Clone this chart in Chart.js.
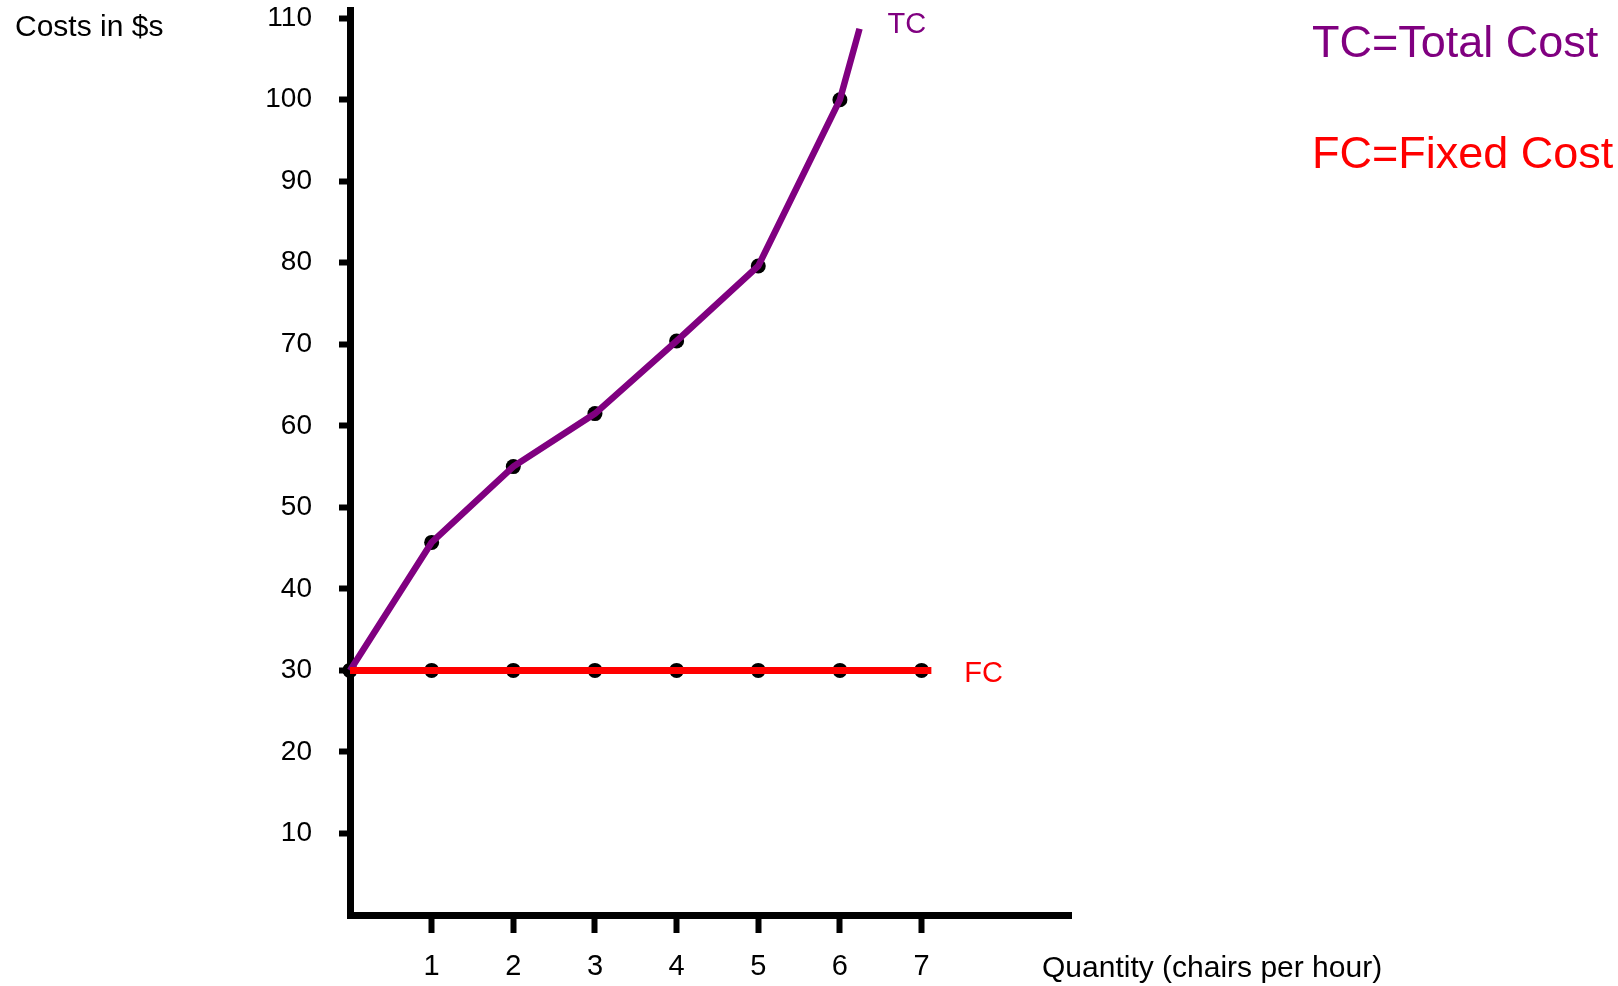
<!DOCTYPE html>
<html>
<head>
<meta charset="utf-8">
<script src="https://cdn.jsdelivr.net/npm/chart.js@4.4.0/dist/chart.umd.min.js"></script>
<style>
  html, body { margin: 0; padding: 0; background: #fff; }
  canvas { display: block; }
</style>
</head>
<body>
<canvas id="costChart" width="1618" height="986"></canvas>
<script>
// quantity (chairs per hour) and costs
const tcQuantity = [0, 1, 2, 3, 4, 5, 6, 6.24];
const tcCost = [30, 45.7, 55, 61.5, 70.4, 79.6, 100, 108.7];
const fcQuantity = [0, 1, 2, 3, 4, 5, 6, 7, 7.12];
const fcCost = [30, 30, 30, 30, 30, 30, 30, 30, 30];
const dotCount = { tc: 7, fc: 8 }; // last point of each line has no dot

const xTickValues = [1, 2, 3, 4, 5, 6, 7];
const yTickValues = [10, 20, 30, 40, 50, 60, 70, 80, 90, 100, 110];

const purple = '#800080';
const red = '#ff0000';
const fontFamily = '"Liberation Sans", Arial, sans-serif';

function toPoints(xs, ys, n) {
    return xs.slice(0, n).map((x, i) => ({ x: x, y: ys[i] }));
}

// free text: axis caption, line names, key
const textPlugin = {
    id: 'texts',
    afterDraw(chart) {
        const ctx = chart.ctx;
        const xs = chart.scales.x;
        const ys = chart.scales.y;
        ctx.save();
        ctx.textBaseline = 'alphabetic';
        ctx.textAlign = 'left';

        ctx.fillStyle = '#000';
        ctx.font = '30px ' + fontFamily;
        ctx.fillText('Costs in $s', 15, 36);
        ctx.fillText('Quantity (chairs per hour)', 1042, 977);

        // line labels next to the line ends
        const tcEnd = tcQuantity.length - 1;
        ctx.fillStyle = purple;
        ctx.font = '29px ' + fontFamily;
        ctx.fillText('TC', xs.getPixelForValue(tcQuantity[tcEnd]) + 28, 33);

        const fcEnd = fcQuantity.length - 1;
        ctx.fillStyle = red;
        ctx.fillText('FC', xs.getPixelForValue(fcQuantity[fcEnd]) + 33, ys.getPixelForValue(fcCost[fcEnd]) + 12);

        ctx.font = '45px ' + fontFamily;
        ctx.fillStyle = purple;
        ctx.fillText('TC=Total Cost', 1312, 57);
        ctx.fillStyle = red;
        ctx.fillText('FC=Fixed Cost', 1312, 168);
        ctx.restore();
    }
};

new Chart(document.getElementById('costChart'), {
    type: 'scatter',
    data: {
        datasets: [
            {
                label: 'TC',
                type: 'line',
                data: toPoints(tcQuantity, tcCost, tcQuantity.length),
                borderColor: purple,
                borderWidth: 6.5,
                pointRadius: 0,
                tension: 0,
                clip: false,
                order: 1
            },
            {
                label: 'FC',
                type: 'line',
                data: toPoints(fcQuantity, fcCost, fcQuantity.length),
                borderColor: red,
                borderWidth: 7,
                pointRadius: 0,
                tension: 0,
                clip: false,
                order: 0
            },
            {
                label: 'TC dots',
                data: toPoints(tcQuantity, tcCost, dotCount.tc),
                backgroundColor: '#000',
                borderWidth: 0,
                pointRadius: 7.5,
                clip: false,
                order: 3
            },
            {
                label: 'FC dots',
                data: toPoints(fcQuantity, fcCost, dotCount.fc),
                backgroundColor: '#000',
                borderWidth: 0,
                pointRadius: 7.5,
                clip: false,
                order: 3
            }
        ]
    },
    options: {
        responsive: false,
        animation: false,
        layout: {
            padding: { top: 10, right: 547, bottom: 0, left: 0 }
        },
        plugins: {
            legend: { display: false },
            tooltip: { enabled: false }
        },
        scales: {
            x: {
                type: 'linear',
                min: 0,
                max: 8.83,
                afterFit: s => {
                    s.height = 71;
                    s.paddingLeft = 0;
                    s.paddingRight = 0;
                },
                afterBuildTicks: s => { s.ticks = xTickValues.map(v => ({ value: v })); },
                border: { display: true, color: '#000', width: 7 },
                grid: {
                    drawOnChartArea: false,
                    drawTicks: true,
                    tickLength: 18,
                    tickWidth: 6,
                    tickColor: '#000'
                },
                ticks: {
                    color: '#000',
                    padding: 17,
                    maxRotation: 0,
                    autoSkip: false,
                    font: { family: fontFamily, size: 29 }
                }
            },
            y: {
                type: 'linear',
                min: 0,
                max: 111,
                afterFit: s => {
                    s.width = 350;
                    s.paddingTop = 0;
                    s.paddingBottom = 0;
                },
                afterBuildTicks: s => { s.ticks = yTickValues.map(v => ({ value: v })); },
                border: { display: true, color: '#000', width: 7 },
                grid: {
                    drawOnChartArea: false,
                    drawTicks: true,
                    tickLength: 11,
                    tickWidth: 6,
                    tickColor: '#000'
                },
                ticks: {
                    color: '#000',
                    padding: 27,
                    autoSkip: false,
                    font: { family: fontFamily, size: 28 }
                }
            }
        }
    },
    plugins: [textPlugin]
});
</script>
</body>
</html>
